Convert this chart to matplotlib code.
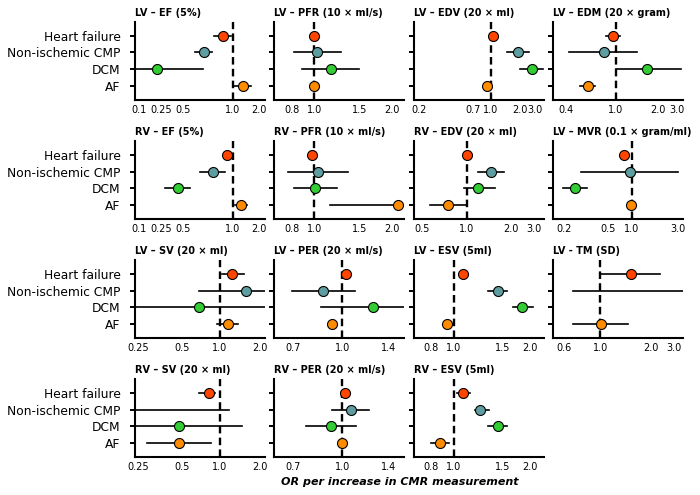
#
# Forest plots: OR per increase in CMR measurement
#

import numpy as np
import matplotlib
matplotlib.use('Agg')
from matplotlib import pyplot as plt

# -------------------------------------------------------------------------------------------------------------
# data (order of rows: Heart failure, Non-ischemic CMP, DCM, AF)
categories = ['Heart failure', 'Non-ischemic CMP', 'DCM', 'AF']
colors = ['#FF4500', '#5F9EA0', '#32CD32', '#FF8C00']

titles = ['LV – EF (5%)', 'LV – PFR (10 × ml/s)', 'LV – EDV (20 × ml)', 'LV – EDM (20 × gram)',
          'RV – EF (5%)', 'RV – PFR (10 × ml/s)', 'RV – EDV (20 × ml)', 'LV – MVR (0.1 × gram/ml)',
          'LV – SV (20 × ml)', 'LV – PER (20 × ml/s)', 'LV – ESV (5ml)', 'LV - TM (SD)',
          'RV – SV (20 × ml)', 'RV – PER (20 × ml/s)', 'RV – ESV (5ml)']

nan = np.nan
odds = [[0.766, 0.466, 0.132, 1.31],
        [1.0, 1.027, 1.158, 1.0],
        [1.063, 1.886, 2.62, 0.91],
        [0.946, 0.809, 1.733, 0.611],
        [0.852, 0.596, 0.231, 1.238],
        [0.977, 1.036, 1.006, 2.13],
        [1.0, 1.467, 1.20, 0.741],
        [0.826, 0.962, 0.255, 0.984],
        [1.241, 1.579, 0.691, 1.145],
        [1.027, 0.873, 1.247, 0.927],
        [1.087, 1.482, 1.843, 0.943],
        [1.546, 5.0, nan, 1.008],
        [0.824, 0.15, 0.486, 0.486],
        [1.019, 1.062, 0.921, 0.999],
        [1.087, 1.267, 1.482, 0.884]]

ci_low = [[0.60, 0.366, 0.05, 1.0],
          [0.97, 0.829, 0.894, 0.98],
          [1.03, 1.456, 1.99, 0.87],
          [0.846, 0.444, 1.0, 0.534],
          [0.79, 0.418, 0.165, 1.063],
          [0.95, 0.786, 0.829, 1.15],
          [0.97, 1.20, 0.948, 0.56],
          [0.78, 0.297, 0.192, 0.95],
          [1.03, 0.695, 0.18, 0.954],
          [1.01, 0.697, 0.859, 0.91],
          [1.07, 1.363, 1.692, 0.925],
          [1.018, 0.682, nan, 0.682],
          [0.695, 0.02, 0.15, 0.2786],
          [1.005, 0.931, 0.772, 0.985],
          [1.03, 1.212, 1.363, 0.819]]

ci_high = [[0.95, 0.571, 0.45, 1.61],
           [1.03, 1.266, 1.494, 1.02],
           [1.10, 2.48, 3.44, 0.95],
           [1.07, 1.44, 3.10, 0.695],
           [0.98, 0.814, 0.32, 1.476],
           [1.0, 1.355, 1.228, 3.5],
           [1.03, 1.80, 1.563, 1.0],
           [0.88, 3.04, 0.341, 1.02],
           [1.533, 2.5, 2.5, 1.38],
           [1.045, 1.10, 1.6, 0.945],
           [1.105, 1.605, 2.02, 0.96],
           [2.338, 20.0, nan, 1.492],
           [0.916, 1.178, 1.48, 0.849],
           [1.035, 1.212, 1.108, 1.015],
           [1.152, 1.375, 1.613, 0.957]]

# x axis limits and ticks of every panel
xlims = [(0.074, 2.37), (0.698, 2.247), (0.162, 3.50), (0.335, 3.24),
         (0.074, 2.37), (0.698, 2.247), (0.4307, 3.385), (0.1524, 3.41),
         (0.2244, 2.206), (0.6144, 1.564), (0.702, 2.233), (0.513, 3.255),
         (0.2244, 2.206), (0.6144, 1.564), (0.702, 2.233)]

tick_pos = [[0.082, 0.150, 0.263, 1.0, 2.0], [0.82, 1.0, 1.5, 2.0],
            [0.185, 0.66, 1.0, 1.99, 2.83], [0.42, 1.0, 2.07, 2.90],
            [0.082, 0.150, 0.263, 1.0, 2.0], [0.82, 1.0, 1.5, 2.0],
            [0.492, 1.0, 2.01, 2.90], [0.1995, 0.562, 1.0, 3.0],
            [0.238, 0.51, 1.0, 2.02], [0.70, 1.0, 1.4],
            [0.814, 1.0, 1.543, 1.972], [0.595, 1.0, 2.057, 2.836],
            [0.238, 0.51, 1.0, 2.02], [0.70, 1.0, 1.4],
            [0.814, 1.0, 1.543, 1.972]]

tick_labels = [['0.1', '0.25', '0.5', '1.0', '2.0'], ['0.8', '1.0', '1.5', '2.0'],
               ['0.2', '0.7', '1.0', '2.0', '3.0'], ['0.4', '1.0', '2.0', '3.0'],
               ['0.1', '0.25', '0.5', '1.0', '2.0'], ['0.8', '1.0', '1.5', '2.0'],
               ['0.5', '1.0', '2.0', '3.0'], ['0.2', '0.5', '1.0', '3.0'],
               ['0.25', '0.5', '1.0', '2.0'], ['0.7', '1.0', '1.4'],
               ['0.8', '1.0', '1.5', '2.0'], ['0.6', '1.0', '2.0', '3.0'],
               ['0.25', '0.5', '1.0', '2.0'], ['0.7', '1.0', '1.4'],
               ['0.8', '1.0', '1.5', '2.0']]


# -------------------------------------------------------------------------------------------------------------
def draw_panel(ax, i):
    ypos = [3, 2, 1, 0]
    for j in range(len(categories)):
        if np.isnan(odds[i][j]):
            continue
        # confidence interval
        ax.plot([ci_low[i][j], ci_high[i][j]], [ypos[j], ypos[j]], color='black', lw=1.2, zorder=1)
        # point estimate
        ax.plot(odds[i][j], ypos[j], 'o', ms=7.2, mfc=colors[j], mec='black', mew=0.8, zorder=3)

    ax.axvline(1.0, color='black', lw=1.7, ls=(0, (3.2, 1.8)), zorder=2)

    ax.set_xscale('log')
    ax.set_xlim(*xlims[i])
    ax.minorticks_off()
    ax.set_xticks(tick_pos[i], tick_labels[i])
    ax.set_ylim(-0.85, 3.85)
    ax.set_yticks(ypos)
    if i % 4 == 0:
        ax.set_yticklabels(categories, fontsize=8.8)
    else:
        ax.set_yticklabels([])

    ax.tick_params(axis='x', length=0, pad=4, labelsize=7)
    ax.tick_params(axis='y', length=3.5, width=1.4, pad=7)
    for s in ['top', 'right']:
        ax.spines[s].set_visible(False)
    for s in ['left', 'bottom']:
        ax.spines[s].set_linewidth(1.5)
    ax.set_title(titles[i], loc='left', fontsize=7, fontweight='bold', pad=4)


# MAIN
if __name__ == '__main__':
    fig, axes = plt.subplots(4, 4, figsize=(7, 4.95), dpi=100)
    fig.subplots_adjust(left=0.193, right=0.976, top=0.956, bottom=0.077, wspace=0.073, hspace=0.526)

    for i, ax in enumerate(axes.flat):
        if i < len(titles):
            draw_panel(ax, i)
        else:
            ax.axis('off')

    fig.text(400 / 700, 1 - 482 / 495, 'OR per increase in CMR measurement', ha='center', va='center',
             fontsize=8, fontweight='bold', style='italic')

    fig.savefig('out.png', dpi=100)
